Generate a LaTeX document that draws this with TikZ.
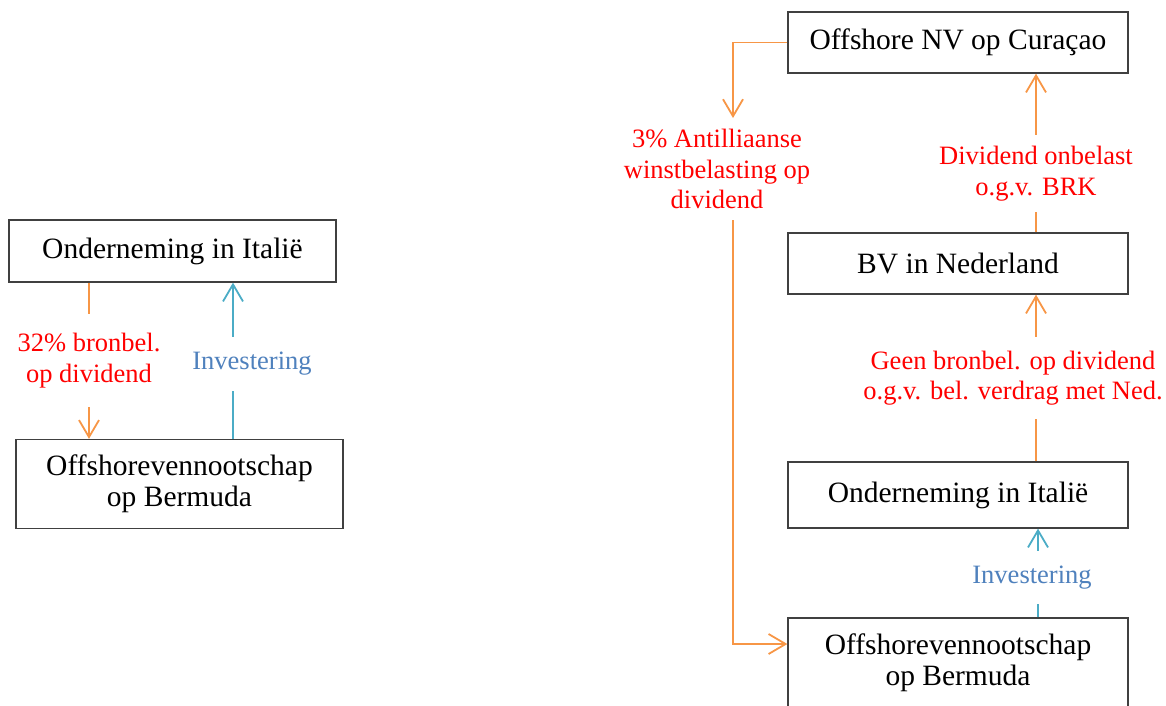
\documentclass[tikz,border=0pt]{standalone}
\usepackage{fontspec}
\setmainfont{Liberation Serif}
\usetikzlibrary{arrows.meta}
\definecolor{lijnoranje}{RGB}{247,150,70}
\definecolor{lijnblauw}{RGB}{75,172,198}
\definecolor{tekstblauw}{RGB}{79,129,189}
\begin{document}
\begin{tikzpicture}[x=1pt, y=-1pt, box/.style={draw=black!75, line width=1.3pt, fill=white, align=center, inner sep=0pt, font=\fontsize{29.5}{31}\selectfont}, lbl/.style={fill=white, align=center, text=red, inner xsep=2pt, inner ysep=14pt, font=\fontsize{26.5}{30.5}\selectfont}, o/.style={draw=lijnoranje, line width=1.8pt}, b/.style={draw=lijnblauw, line width=1.8pt}, pijl/.style={-{Straight Barb[length=17pt, width=20pt]}}]
                \useasboundingbox (0,0) rectangle (1166,705);
                % nodes
                \node[box, minimum width=327pt, minimum height=62pt] (italL) at (172.5,251) {Onderneming in Italië};
                \node[box, minimum width=327pt, minimum height=89pt] (bermL) at (179.5,484) {Offshorevennootschap\\op Bermuda};
                \node[box, minimum width=340pt, minimum height=61pt] (cur) at (958,42.5) {Offshore NV op Curaçao};
                \node[box, minimum width=340pt, minimum height=61pt] (bv) at (958,263.5) {BV in Nederland};
                \node[box, minimum width=340pt, minimum height=66pt] (italR) at (958,495) {Onderneming in Italië};
                \node[box, minimum width=340pt, minimum height=89pt] (bermR) at (958,662.5) {Offshorevennootschap\\op Bermuda};
                \node[lbl, anchor=north, inner ysep=11pt] (anti) at (717,118) {3\% Antilliaanse\\winstbelasting op\\dividend};
                \coordinate (oL) at (89,0);
                \coordinate (bL) at (233,0);
                \coordinate (oR) at (1036,0);
                \coordinate (bR) at (1038,0);
                \coordinate (aR) at (733,0);
                % edges
                \draw [o, pijl] (italL.south -| oL) -- node[lbl, inner ysep=19pt] {32\% bronbel.\\op dividend} (bermL.north -| oL);
                \draw [b, pijl] (bermL.north -| bL) -- node[lbl, pos=0.48, text=tekstblauw, xshift=19pt, inner ysep=15.5pt] {Investering} (italL.south -| bL);
                \draw [o, pijl] (cur.west) -| (anti.north -| aR);
                \draw [o, pijl] (anti.south -| aR) |- ([yshift=18.5pt]bermR.west);
                \draw [o, pijl] (bv.north -| oR) -- node[lbl, pos=0.37, inner ysep=11pt] {Dividend onbelast\\o.g.v. BRK} (cur.south -| oR);
                \draw [o, pijl] (italR.north -| oR) -- node[lbl, xshift=-23pt] {Geen bronbel. op dividend\\o.g.v. bel. verdrag met Ned.} (bv.south -| oR);
                \draw [b, pijl] (bermR.north -| bR) -- node[lbl, pos=0.45, text=tekstblauw, xshift=-6pt, inner ysep=14.5pt] {Investering} (italR.south -| bR);
            \end{tikzpicture}
\end{document}
